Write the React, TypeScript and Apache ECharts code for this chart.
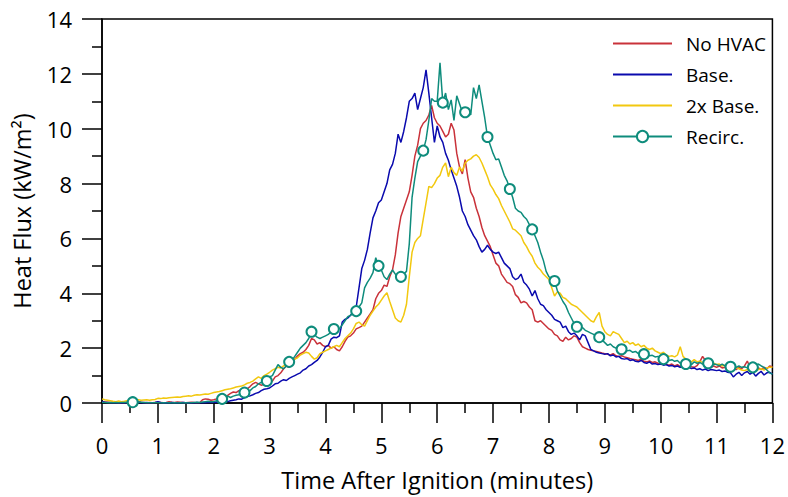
import React, { useEffect, useRef } from "react";
import * as echarts from "echarts";

// sampling interval of every series (minutes)
const STEP = 0.05;

const seriesNames = ["No HVAC", "Base.", "2x Base.", "Recirc."];

const noHvac = [
  0.05,0.04,0.03,0.02,0.03,0.02,0.01,0.02,0.01,0.03,0.02,0.01,0.02,0.05,0.03,0.02,0.01,0.02,0.01,0.02,
  0.03,0.02,0.01,0.02,0.05,0.03,0.02,0.04,0.03,0.02,0.01,0.02,0.03,0.02,0.01,0.02,0.12,0.15,0.14,0.1,
  0.12,0.15,0.2,0.22,0.2,0.28,0.35,0.4,0.38,0.45,0.48,0.45,0.52,0.6,0.7,0.75,0.7,0.65,0.68,0.63,
  0.7,0.8,0.95,1.0,1.1,1.25,1.35,1.3,1.5,1.6,1.72,1.8,1.85,1.95,2.1,2.35,2.3,2.15,2.2,2.1,
  2.05,2.1,2.0,2.05,1.95,1.9,2.05,2.25,2.4,2.45,2.55,2.7,2.75,2.8,2.95,3.1,3.25,3.4,3.8,4.0,
  4.1,4.3,4.25,4.6,4.85,5.4,6.2,6.8,7.1,7.4,7.7,8.3,9.0,9.4,10.0,10.2,10.3,10.5,10.85,10.4,
  10.2,10.1,9.9,9.7,9.8,10.2,9.95,9.1,8.6,8.35,8.87,8.2,7.7,7.5,7.1,6.8,6.4,6.1,5.9,5.7,
  5.4,5.1,5.0,4.7,4.55,4.4,4.35,4.25,3.95,3.85,3.65,3.7,3.65,3.5,3.4,3.0,2.95,3.0,2.9,2.8,
  2.7,2.65,2.5,2.45,2.3,2.25,2.4,2.3,2.35,2.45,2.4,2.2,2.05,2.0,1.95,1.92,1.9,1.88,1.85,1.82,
  1.8,1.78,1.75,1.8,1.72,1.7,1.72,1.68,1.65,1.62,1.6,1.58,1.55,1.6,1.52,1.5,1.53,1.48,1.5,1.45,
  1.42,1.45,1.4,1.38,1.42,1.35,1.4,1.33,1.38,1.3,1.35,1.32,1.3,1.36,1.5,1.7,1.55,1.38,1.3,1.35,
  1.3,1.35,1.28,1.3,1.25,1.32,1.28,1.22,1.3,1.25,1.35,1.53,1.3,1.25,1.2,1.28,1.22,1.3,1.25,1.35,
  1.32,
];

const base = [
  0.05,0.03,0.02,0.01,0.02,0.01,0,0.01,0,0.02,0.01,0,0.01,0.03,0.01,0,0.02,0,0.01,0.02,
  0.05,0.02,0,0.01,0,0.02,0.01,0,0.01,0.02,0.01,0,0.01,0,0.02,0.01,0,0.01,0.02,0.03,
  0.02,0.04,0.03,0.05,0.06,0.05,0.08,0.1,0.12,0.15,0.14,0.2,0.24,0.26,0.3,0.35,0.38,0.45,0.5,0.52,
  0.55,0.62,0.7,0.72,0.8,0.85,0.82,0.9,0.95,1.0,1.05,1.1,1.2,1.25,1.35,1.4,1.48,1.55,1.68,1.85,
  2.05,2.1,2.33,2.4,2.38,2.45,2.95,3.05,3.1,3.2,3.35,3.5,4.2,4.9,5.2,5.6,6.2,6.75,7.0,7.3,
  7.4,7.7,8.0,8.5,8.7,9.1,9.8,9.5,9.9,10.4,11.0,11.1,11.3,10.7,11.1,11.5,12.15,11.3,10.4,9.5,
  10.1,9.7,9.5,9.1,8.85,8.5,8.2,7.9,7.5,7.0,6.8,6.5,6.3,6.1,5.95,5.7,5.5,5.6,5.75,5.6,
  5.5,5.45,5.5,5.3,5.1,5.0,4.9,4.6,4.5,4.55,4.7,4.4,4.3,4.15,3.9,4.1,3.8,3.6,3.55,3.4,
  3.3,3.2,3.05,3.0,2.95,2.75,2.8,2.6,2.5,2.55,2.45,2.3,2.5,2.45,2.2,1.95,1.9,1.85,1.82,1.8,
  1.78,1.8,1.72,1.75,1.68,1.7,1.62,1.6,1.62,1.55,1.58,1.52,1.5,1.55,1.48,1.45,1.5,1.42,1.44,1.4,
  1.42,1.38,1.4,1.35,1.37,1.32,1.35,1.3,1.33,1.28,1.3,1.26,1.28,1.22,1.25,1.2,1.24,1.18,1.22,1.2,
  1.18,1.2,1.15,1.17,1.12,1.1,0.95,1.05,1.12,1.0,1.1,1.15,1.05,1.12,0.98,1.08,1.15,1.02,1.1,1.12,
  1.05,
];

const doubleBase = [
  0.15,0.12,0.1,0.08,0.06,0.05,0.07,0.05,0.06,0.08,0.1,0.09,0.1,0.12,0.1,0.11,0.12,0.1,0.12,0.13,
  0.17,0.16,0.18,0.17,0.19,0.2,0.21,0.22,0.21,0.24,0.25,0.26,0.25,0.28,0.3,0.29,0.31,0.33,0.32,0.35,
  0.38,0.4,0.42,0.45,0.48,0.5,0.52,0.55,0.58,0.6,0.62,0.66,0.72,0.75,0.8,0.88,0.95,0.9,1.0,1.05,
  1.12,1.2,1.25,1.3,1.28,1.35,1.42,1.5,1.55,1.6,1.65,1.75,1.8,1.85,1.82,1.7,1.6,1.65,1.8,1.85,
  1.9,1.95,2.0,2.05,2.1,2.05,2.2,2.35,2.45,2.55,2.7,2.9,2.95,2.85,2.8,3.0,3.2,3.35,3.5,3.6,
  3.75,3.9,4.02,3.7,3.4,3.1,3.0,2.95,3.2,3.6,4.6,5.5,5.85,6.0,6.1,6.7,7.3,7.9,7.85,8.0,
  8.2,8.3,8.6,8.75,8.25,8.6,8.4,8.3,8.6,8.45,8.75,8.85,8.9,9.0,9.05,8.95,8.75,8.5,8.25,7.95,
  7.8,7.6,7.45,7.2,7.0,6.8,6.6,6.35,6.3,6.2,6.1,5.85,5.7,5.5,5.35,5.1,4.95,4.85,4.7,4.6,
  4.5,4.2,3.9,4.05,4.0,3.85,3.8,3.7,3.6,3.55,3.5,3.4,3.3,3.2,3.1,3.0,2.95,3.15,3.3,2.8,
  2.6,2.5,2.45,2.6,2.55,2.5,2.35,2.2,2.25,2.15,2.2,2.1,2.15,2.05,2.1,2.0,1.95,2.0,1.9,1.85,
  1.8,1.85,1.75,1.7,1.72,1.68,1.75,2.05,1.7,1.6,1.55,1.5,1.58,1.5,1.52,1.48,1.45,1.5,1.42,1.45,
  1.4,1.42,1.35,1.38,1.3,1.35,1.28,1.3,1.25,1.2,1.18,1.22,1.15,1.2,1.18,1.22,1.25,1.2,1.28,1.3,
  1.3,
];

const recirc = [
  0.02,0.02,0.01,0.02,0.01,0.02,0.01,0.02,0.02,0.03,0.02,0.03,0.05,0.04,0.03,0.02,0.01,0.01,0.01,0.01,
  0.01,0,0.01,0,0.01,0,0.01,0,0.01,0,0.01,0,0.01,0.02,0.03,0.02,0.04,0.05,0.06,0.05,
  0.05,0.08,0.1,0.15,0.22,0.25,0.2,0.25,0.28,0.3,0.35,0.38,0.4,0.45,0.55,0.6,0.7,0.75,0.85,0.8,
  0.95,1.0,1.2,1.4,1.3,1.25,1.35,1.5,1.55,1.7,1.85,2.0,2.1,2.2,2.35,2.6,2.5,2.4,2.35,2.4,
  2.45,2.5,2.6,2.7,2.75,2.7,2.85,3.0,3.15,3.2,3.3,3.35,3.5,3.65,4.2,4.4,4.55,4.75,5.3,5.0,
  4.85,4.6,4.5,4.7,4.85,4.7,4.55,4.6,4.7,4.8,5.8,7.5,8.2,8.8,9.0,9.2,9.6,10.3,11.1,11.0,
  11.0,12.4,10.95,11.3,10.7,11.05,10.3,11.2,10.9,10.6,10.6,10.7,10.5,11.5,11.1,11.6,11.0,10.4,9.7,9.4,
  9.1,8.87,8.9,8.6,8.3,8.1,7.8,7.5,7.1,7.0,6.95,6.8,6.7,6.5,6.33,6.1,5.85,5.5,5.2,4.8,
  4.6,4.55,4.45,4.1,3.9,3.7,3.55,3.3,3.1,2.9,2.78,2.7,2.75,2.65,2.6,2.55,2.5,2.45,2.4,2.3,
  2.2,2.1,2.15,2.05,2.0,2.02,1.96,1.98,1.9,1.92,1.85,1.88,1.8,1.82,1.78,1.75,1.72,1.74,1.68,1.7,
  1.62,1.6,1.65,1.55,1.58,1.52,1.55,1.45,1.48,1.42,1.45,1.4,1.5,1.45,1.48,1.42,1.4,1.45,1.38,1.42,
  1.4,1.36,1.42,1.35,1.38,1.32,1.36,1.3,1.35,1.3,1.32,1.28,1.35,1.3,1.38,1.42,1.35,1.3,1.2,1.1,
  1.05,
];

// times (minutes) at which the Recirc. curve carries a circle marker
const recircMarkerTimes = [
  0.55, 2.15, 2.55, 2.95, 3.35, 3.75, 4.15, 4.55, 4.95, 5.35, 5.75, 6.1, 6.5,
  6.9, 7.3, 7.7, 8.1, 8.5, 8.9, 9.3, 9.7, 10.05, 10.45, 10.85, 11.25, 11.65,
];

const colors = ["#C9323A", "#0A0AAE", "#F2C80F", "#0E8C7C"];

const FONT = "'Open Sans', 'Noto Sans', sans-serif";

const toPairs = (vals: number[]) =>
  vals.map((v, i) => [Math.round(i * STEP * 100) / 100, v]);

export default function App() {
  const ref = useRef<HTMLDivElement>(null);

  useEffect(() => {
    if (!ref.current) return;
    const chart = echarts.init(ref.current, null, { renderer: "svg" });
    const markerIdx = new Set(recircMarkerTimes.map((t) => Math.round(t / STEP)));
    const allValues = [noHvac, base, doubleBase, recirc];

    const axisCommon = {
      type: "value" as const,
      axisLine: { show: true, onZero: false, lineStyle: { color: "#000", width: 1.5 } },
      axisTick: { show: true, inside: false, length: 20, lineStyle: { color: "#000", width: 1.5 } },
      minorTick: { show: true, splitNumber: 2, length: 10, lineStyle: { color: "#000", width: 1.5 } },
      splitLine: { show: false },
      minorSplitLine: { show: false },
      axisLabel: { color: "#000", fontSize: 22, fontFamily: FONT },
      nameLocation: "middle" as const,
      nameTextStyle: { color: "#000", fontSize: 23.5, fontFamily: FONT },
    };

    chart.setOption({
      animation: false,
      backgroundColor: "#fff",
      grid: {
        left: 102,
        right: 15,
        top: 19,
        bottom: 93,
        show: true,
        borderColor: "#000",
        borderWidth: 1.5,
        containLabel: false,
      },
      legend: {
        orient: "vertical",
        left: 607,
        top: 29,
        itemWidth: 59,
        itemHeight: 14,
        itemGap: 12,
        data: seriesNames.map((name, k) =>
          k === 3 ? { name } : { name, itemStyle: { opacity: 0 } }
        ),
        textStyle: { color: "#000", fontSize: 19, fontFamily: FONT, padding: [0, 0, 0, 9] },
      },
      xAxis: {
        ...axisCommon,
        min: 0,
        max: 12,
        interval: 1,
        axisLabel: { ...axisCommon.axisLabel, margin: 31 },
        name: "Time After Ignition (minutes)",
        nameGap: 65,
      },
      yAxis: {
        ...axisCommon,
        min: 0,
        max: 14,
        interval: 2,
        axisLabel: { ...axisCommon.axisLabel, margin: 30 },
        name: "Heat Flux (kW/m²)",
        nameGap: 68,
      },
      series: seriesNames.map((name, k) => {
        const isRecirc = k === 3;
        return {
          name,
          type: "line",
          data: toPairs(allValues[k]),
          color: colors[k],
          lineStyle: { color: colors[k], width: 1.5 },
          symbol: isRecirc ? "emptyCircle" : "none",
          showSymbol: isRecirc,
          showAllSymbol: true,
          symbolSize: isRecirc
            ? (_v: any, p: any) => (markerIdx.has(p.dataIndex) ? 10 : 0)
            : 0,
          itemStyle: { color: colors[k], borderWidth: 1.5 },
          emphasis: { disabled: true },
          z: 2 + k,
        };
      }),
    });

    return () => chart.dispose();
  }, []);

  return (
    <div
      ref={ref}
      style={{ width: 788, height: 497, position: "absolute", left: 0, top: 0 }}
    />
  );
}
